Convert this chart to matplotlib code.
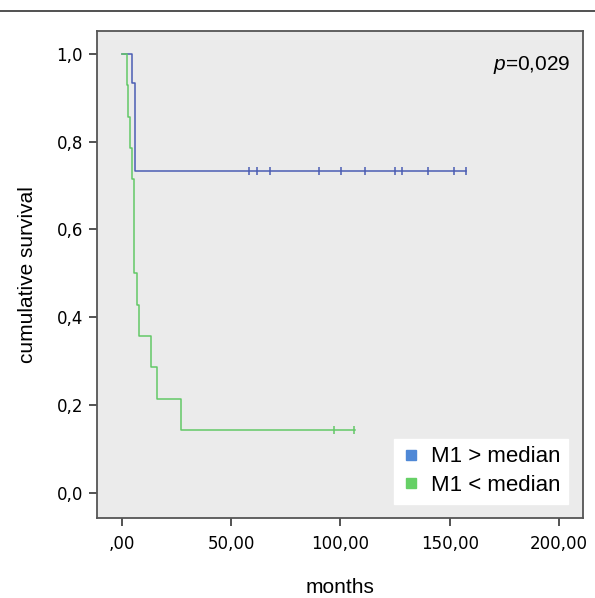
import numpy as np
import matplotlib
matplotlib.use('Agg')
import matplotlib.pyplot as plt
from matplotlib.lines import Line2D

plt.rcParams['mathtext.fontset'] = 'custom'
plt.rcParams['mathtext.it'] = 'Liberation Sans:italic'
plt.rcParams['mathtext.rm'] = 'Liberation Sans'

# Data (months, cumulative survival)
high_times = [0, 4.4, 5.9]
high_surv = [1.0, 0.933, 0.733]
high_end = 157.4
high_censored = [58.1, 61.9, 67.9, 90.2, 100.1, 111.2, 125.1, 128.1, 140.2, 151.9, 157.4]

low_times = [0, 2.1, 2.6, 3.7, 4.4, 5.6, 6.9, 7.9, 13.1, 15.9, 26.9]
low_surv = [1.0, 0.929, 0.857, 0.786, 0.714, 0.5, 0.429, 0.357, 0.286, 0.214, 0.143]
low_end = 106.5
low_censored = [97.0, 106.2]

group_labels = ['M1 > median', 'M1 < median']
p_text = '=0,029'

x_ticks = [0, 50, 100, 150, 200]
x_ticklabels = [',00', '50,00', '100,00', '150,00', '200,00']
y_ticks = [0.0, 0.2, 0.4, 0.6, 0.8, 1.0]
y_ticklabels = ['0,0', '0,2', '0,4', '0,6', '0,8', '1,0']

line_blue = '#4b5db3'
line_green = '#62c867'
leg_blue = '#4f88d6'
leg_green = '#66d066'

fig = plt.figure(figsize=(5.95, 5.98), dpi=100)
ax = fig.add_axes([97 / 595, 1 - 518 / 598, (583 - 97) / 595, (518 - 31) / 598])
ax.set_facecolor('#ebebeb')


def km_line(times, surv, end, censored, color):
    t = list(times) + [end]
    s = list(surv) + [surv[-1]]
    ax.step(t, s, where='post', color=color, lw=1.1)
    cs = []
    for c in censored:
        idx = np.searchsorted(times, c, side='right') - 1
        cs.append(surv[idx])
    ax.plot(censored, cs, ls='none', marker='|', ms=6, mew=1.1, color=color)


km_line(high_times, high_surv, high_end, high_censored, line_blue)
km_line(low_times, low_surv, low_end, low_censored, line_green)

ax.set_xlim(-11.4, 211)
ax.set_ylim(-0.057, 1.052)

ax.set_xticks(x_ticks)
ax.set_xticklabels(x_ticklabels, family='DejaVu Sans', fontsize=12)
ax.set_yticks(y_ticks)
ax.set_yticklabels(y_ticklabels, family='DejaVu Sans', fontsize=12)
ax.tick_params(length=6, width=1.3, color='#444444')
ax.tick_params(axis='x', pad=6)
ax.tick_params(axis='y', pad=4)

for sp in ax.spines.values():
    sp.set_color('#555555')
    sp.set_linewidth(1.3)

ax.set_xlabel('months', family='Liberation Sans', fontsize=15, labelpad=18)
ax.set_ylabel('cumulative survival', family='Liberation Sans', fontsize=15, labelpad=14)

ax.text(0.975, 0.93, '$p$' + p_text, transform=ax.transAxes, ha='right', va='center',
        family='Liberation Sans', fontsize=15)

handles = [Line2D([], [], ls='none', marker='s', ms=7, color=leg_blue),
           Line2D([], [], ls='none', marker='s', ms=7, color=leg_green)]
leg = ax.legend(handles, group_labels, loc='lower right', bbox_to_anchor=(0.969, 0.029),
                borderaxespad=0, fancybox=False, framealpha=1, edgecolor='white',
                prop={'family': 'Liberation Sans', 'size': 16}, handlelength=0.8,
                handletextpad=0.5, borderpad=0.35, labelspacing=0.35)

# thin rule at the top of the figure
fig.add_artist(Line2D([0, 1], [1 - 11 / 598, 1 - 11 / 598], transform=fig.transFigure,
                      color='#333333', lw=1.2))

fig.savefig('out.png', dpi=100)
